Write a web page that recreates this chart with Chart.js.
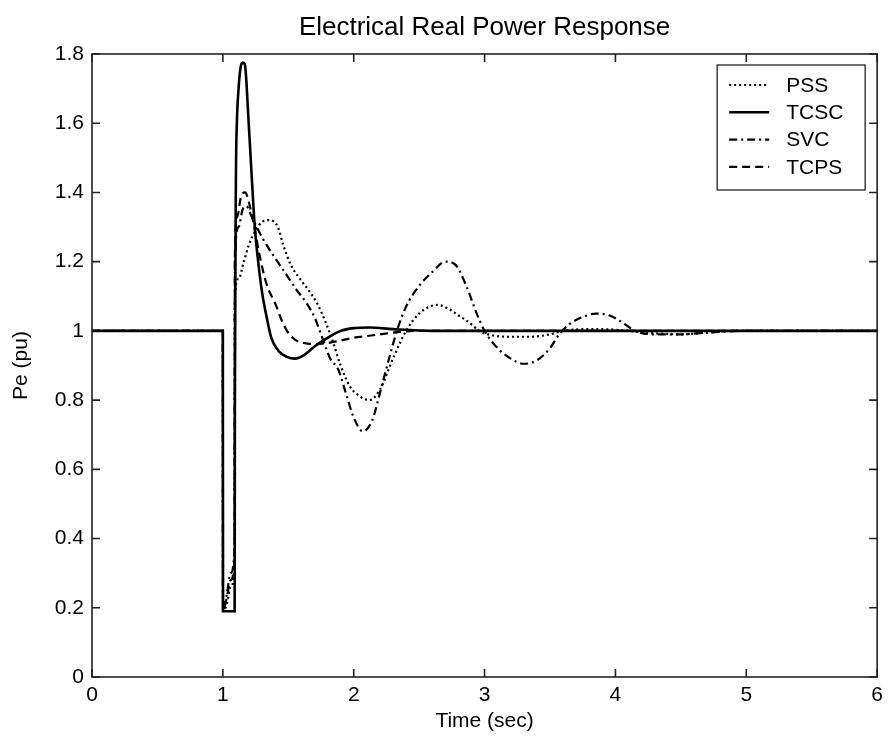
<!DOCTYPE html>
<html>
<head>
<meta charset="utf-8">
<title>Electrical Real Power Response</title>
<script src="https://cdn.jsdelivr.net/npm/chart.js@4.4.1/dist/chart.umd.min.js"></script>
<style>
  html, body { margin: 0; padding: 0; background: #fff; }
  #wrap { width: 889px; height: 743px; position: relative; }
</style>
</head>
<body>
<div id="wrap"><canvas id="c"></canvas></div>
<script>
// ---- data -------------------------------------------------------------
const seriesNames = ['PSS', 'TCSC', 'SVC', 'TCPS'];
const xTicks = [0, 1, 2, 3, 4, 5, 6];
const xTickLabels = ['0', '1', '2', '3', '4', '5', '6'];
const yTicks = [0, 0.2, 0.4, 0.6, 0.8, 1, 1.2, 1.4, 1.6, 1.8];
const yTickLabels = ['0', '0.2', '0.4', '0.6', '0.8', '1', '1.2', '1.4', '1.6', '1.8'];

// PSS
const timePSS = [0, 1.0, 1.001, 1.03, 1.06, 1.09, 1.092, 1.12, 1.16, 1.2, 1.25, 1.3, 1.36, 1.42, 1.46, 1.52, 1.59, 1.65, 1.72, 1.78, 1.84, 1.9, 1.97, 2.05, 2.12, 2.2, 2.3, 2.4, 2.5, 2.58, 2.64, 2.72, 2.8, 2.88, 2.96, 3.05, 3.2, 3.35, 3.5, 3.6, 3.75, 3.9, 4.1, 4.3, 4.5, 4.7, 4.9, 5.5, 6.0];
const pePSS   = [1, 1, 0.19, 0.21, 0.26, 0.33, 1.10, 1.15, 1.20, 1.25, 1.29, 1.315, 1.32, 1.30, 1.25, 1.19, 1.15, 1.12, 1.08, 1.03, 0.97, 0.90, 0.84, 0.81, 0.80, 0.83, 0.92, 1.0, 1.05, 1.07, 1.075, 1.065, 1.045, 1.025, 1.0, 0.988, 0.983, 0.983, 0.99, 1.0, 1.005, 1.005, 1.0, 0.993, 0.99, 0.995, 1.0, 1.0, 1.0];

// TCSC
const timeTCSC = [0, 1.0, 1.001, 1.09, 1.092, 1.1, 1.107, 1.12, 1.135, 1.15, 1.168, 1.18, 1.19, 1.205, 1.22, 1.244, 1.27, 1.30, 1.34, 1.37, 1.43, 1.49, 1.55, 1.62, 1.7, 1.8, 1.9, 2.0, 2.12, 2.3, 2.6, 3.0, 4.0, 5.0, 6.0];
const peTCSC   = [1, 1, 0.19, 0.19, 0.80, 1.45, 1.60, 1.70, 1.76, 1.775, 1.77, 1.72, 1.65, 1.55, 1.45, 1.30, 1.20, 1.11, 1.03, 0.98, 0.94, 0.925, 0.92, 0.93, 0.955, 0.98, 1.0, 1.008, 1.01, 1.005, 1.0, 1.0, 1.0, 1.0, 1.0];

// SVC
const timeSVC = [0, 1.0, 1.001, 1.03, 1.06, 1.09, 1.092, 1.12, 1.15, 1.18, 1.22, 1.3, 1.4, 1.49, 1.56, 1.64, 1.7, 1.76, 1.82, 1.88, 1.94, 2.0, 2.07, 2.14, 2.2, 2.27, 2.33, 2.4, 2.5, 2.6, 2.7, 2.78, 2.86, 2.94, 3.0, 3.1, 3.2, 3.3, 3.4, 3.5, 3.57, 3.65, 3.75, 3.85, 3.95, 4.05, 4.15, 4.3, 4.5, 4.7, 5.0, 5.5, 6.0];
const peSVC   = [1, 1, 0.19, 0.24, 0.30, 0.38, 1.20, 1.30, 1.35, 1.36, 1.33, 1.27, 1.21, 1.16, 1.12, 1.08, 1.04, 0.98, 0.92, 0.89, 0.82, 0.75, 0.71, 0.74, 0.82, 0.92, 1.0, 1.07, 1.13, 1.17, 1.20, 1.19, 1.13, 1.05, 1.0, 0.95, 0.92, 0.905, 0.915, 0.95, 0.99, 1.02, 1.04, 1.05, 1.045, 1.025, 1.0, 0.99, 0.99, 0.995, 1.0, 1.0, 1.0];

// TCPS
const timeTCPS = [0, 1.0, 1.001, 1.03, 1.06, 1.09, 1.092, 1.11, 1.14, 1.17, 1.2, 1.24, 1.28, 1.33, 1.41, 1.45, 1.49, 1.55, 1.62, 1.7, 1.8, 1.9, 2.0, 2.1, 2.2, 2.35, 2.5, 3.0, 4.0, 5.0, 6.0];
const peTCPS   = [1, 1, 0.19, 0.23, 0.28, 0.35, 1.22, 1.33, 1.39, 1.40, 1.37, 1.30, 1.22, 1.14, 1.07, 1.03, 1.0, 0.975, 0.965, 0.962, 0.965, 0.972, 0.98, 0.985, 0.99, 0.997, 1.0, 1.0, 1.0, 1.0, 1.0];

// ---- chart ------------------------------------------------------------
const FONT = "'Liberation Sans', Arial, Helvetica, sans-serif";
const TEXT_SIZE = 21;
Chart.defaults.font.family = FONT;
Chart.defaults.color = '#000';

const pairs = (t, v) => t.map((x, i) => ({ x: x, y: v[i] }));

const styles = {
  PSS:  { dash: [2, 3],        width: 2.2 },
  TCSC: { dash: [],            width: 2.6 },
  SVC:  { dash: [8, 4, 2, 4],  width: 2.2 },
  TCPS: { dash: [8, 5],        width: 2.2 }
};
const seriesData = {
  PSS: pairs(timePSS, pePSS),
  TCSC: pairs(timeTCSC, peTCSC),
  SVC: pairs(timeSVC, peSVC),
  TCPS: pairs(timeTCPS, peTCPS)
};

const datasets = seriesNames.map(name => ({
  label: name,
  data: seriesData[name],
  borderColor: '#000',
  backgroundColor: '#000',
  borderWidth: styles[name].width,
  borderDash: styles[name].dash,
  borderCapStyle: 'butt',
  pointRadius: 0,
  fill: false,
  cubicInterpolationMode: 'monotone'
}));

// Box around the plot with inward-pointing ticks on all four sides
const framePlugin = {
  id: 'frame',
  beforeDatasetsDraw(chart) {
    const { ctx, chartArea: a, scales } = chart;
    ctx.save();
    ctx.strokeStyle = '#222';
    ctx.lineWidth = 1.6;
    ctx.strokeRect(a.left, a.top, a.right - a.left, a.bottom - a.top);
    const L = 8;
    ctx.beginPath();
    xTicks.forEach(v => {
      const px = scales.x.getPixelForValue(v);
      ctx.moveTo(px, a.bottom); ctx.lineTo(px, a.bottom - L);
      ctx.moveTo(px, a.top); ctx.lineTo(px, a.top + L);
    });
    yTicks.forEach(v => {
      const py = scales.y.getPixelForValue(v);
      ctx.moveTo(a.left, py); ctx.lineTo(a.left + L, py);
      ctx.moveTo(a.right, py); ctx.lineTo(a.right - L, py);
    });
    ctx.stroke();
    ctx.restore();
  }
};

// Boxed legend in the upper-right corner of the plot
const legendPlugin = {
  id: 'boxLegend',
  afterDatasetsDraw(chart) {
    const { ctx, chartArea: a } = chart;
    const w = 148, h = 125;
    const left = a.right - 12 - w, top = a.top + 11;
    ctx.save();
    ctx.fillStyle = '#fff';
    ctx.fillRect(left, top, w, h);
    ctx.strokeStyle = '#222';
    ctx.lineWidth = 1.3;
    ctx.strokeRect(left, top, w, h);
    ctx.font = TEXT_SIZE + 'px ' + FONT;
    ctx.textBaseline = 'middle';
    ctx.textAlign = 'left';
    chart.data.datasets.forEach((ds, i) => {
      const y = top + 20 + i * 27.3;
      ctx.beginPath();
      ctx.setLineDash(ds.borderDash);
      ctx.lineWidth = ds.borderWidth;
      ctx.strokeStyle = '#000';
      ctx.moveTo(left + 12, y);
      ctx.lineTo(left + 52, y);
      ctx.stroke();
      ctx.setLineDash([]);
      ctx.fillStyle = '#000';
      ctx.fillText(ds.label, left + 69, y + 1);
    });
    ctx.restore();
  }
};

new Chart(document.getElementById('c'), {
  type: 'line',
  data: { datasets: datasets },
  plugins: [framePlugin, legendPlugin],
  options: {
    responsive: true,
    maintainAspectRatio: false,
    animation: false,
    layout: { padding: { left: 0, right: 9, top: 0, bottom: 0 } },
    plugins: {
      legend: { display: false },
      tooltip: { enabled: false },
      title: {
        display: true,
        fullSize: false,
        text: 'Electrical Real Power Response',
        font: { size: 26, weight: 'normal' },
        color: '#000',
        padding: { top: 12.4, bottom: 10.4 }
      }
    },
    scales: {
      x: {
        type: 'linear',
        min: 0, max: 6,
        grid: { display: false, drawTicks: false },
        border: { display: false },
        afterBuildTicks: s => { s.ticks = xTicks.map(v => ({ value: v })); },
        afterFit: s => { s.height = 66; },
        ticks: {
          padding: 6,
          font: { size: TEXT_SIZE },
          color: '#000',
          maxRotation: 0,
          callback: (v, i) => xTickLabels[i]
        },
        title: {
          display: true,
          text: 'Time (sec)',
          font: { size: TEXT_SIZE },
          color: '#000',
          padding: { top: 0, bottom: 9.5 }
        }
      },
      y: {
        type: 'linear',
        min: 0, max: 1.8,
        grid: { display: false, drawTicks: false },
        border: { display: false },
        afterBuildTicks: s => { s.ticks = yTicks.map(v => ({ value: v })); },
        afterFit: s => { s.width = 92; },
        ticks: {
          padding: 8,
          font: { size: TEXT_SIZE },
          color: '#000',
          callback: (v, i) => yTickLabels[i]
        },
        title: {
          display: true,
          text: 'Pe (pu)',
          font: { size: TEXT_SIZE },
          color: '#000',
          padding: { top: 9, bottom: 0 }
        }
      }
    }
  }
});
</script>
</body>
</html>
